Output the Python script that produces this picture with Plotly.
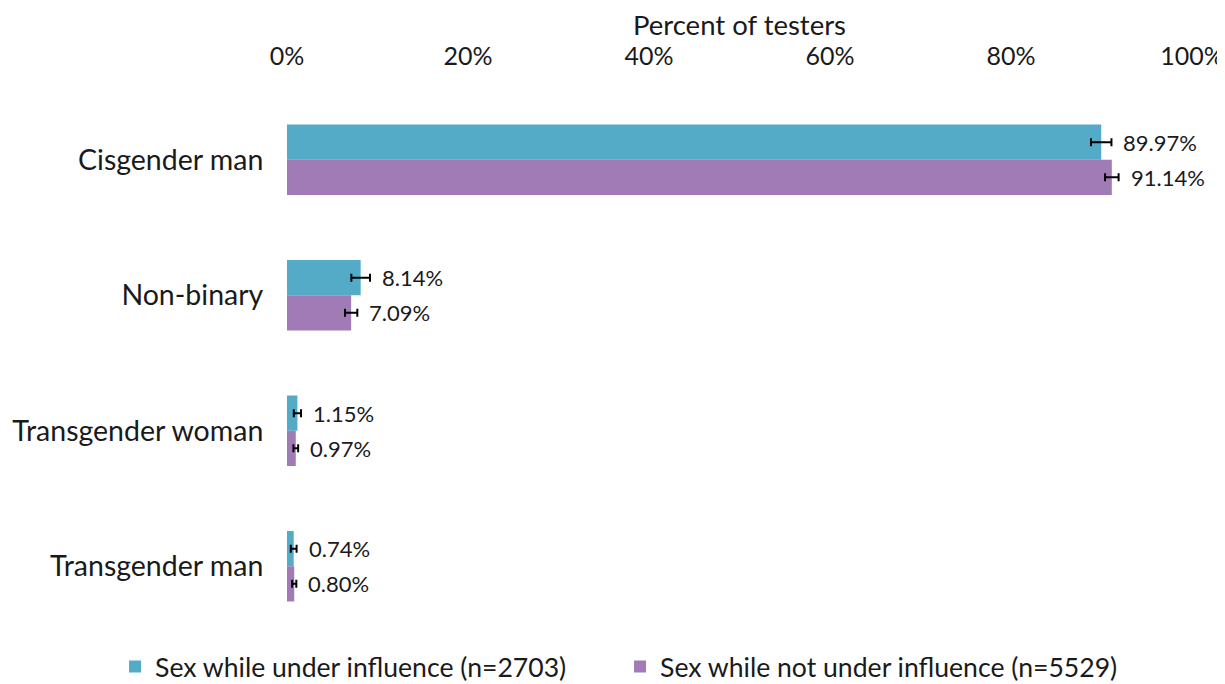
import plotly.graph_objects as go

categories = ["Cisgender man", "Non-binary", "Transgender woman", "Transgender man"]
under_vals = [89.97, 8.14, 1.15, 0.74]
not_under_vals = [91.14, 7.09, 0.97, 0.80]
under_err = [1.13, 1.03, 0.40, 0.32]
not_under_err = [0.75, 0.68, 0.26, 0.23]
series_names = ["Sex while under influence (n=2703)", "Sex while not under influence (n=5529)"]
tick_vals = [0, 20, 40, 60, 80, 100]
tick_text = ["0%", "20%", "40%", "60%", "80%", "100%"]

TEAL = "#54ABC8"
PURPLE = "#A07BB5"
FONT = "Lato, 'Open Sans', sans-serif"
TXT = "#1a1a1a"

fig = go.Figure()
for name, vals, errs, col in [
    (series_names[0], under_vals, under_err, TEAL),
    (series_names[1], not_under_vals, not_under_err, PURPLE),
]:
    fig.add_trace(go.Bar(
        y=categories, x=vals, orientation="h", name=name,
        marker=dict(color=col, line=dict(width=0)),
        error_x=dict(type="data", array=errs, visible=True, color="black",
                     thickness=2, width=4),
    ))

# value labels to the right of the error bars
for vals, errs, shift in [(under_vals, under_err, 17.5), (not_under_vals, not_under_err, -17.5)]:
    for c, v, e in zip(categories, vals, errs):
        fig.add_annotation(
            x=v + e, y=c, text=f"{v:.2f}%", showarrow=False,
            xanchor="left", yanchor="middle", xshift=10, yshift=shift,
            font=dict(family=FONT, size=22, color=TXT),
        )

fig.update_layout(
    width=1217, height=676,
    margin=dict(l=279, r=33, t=84, b=50, autoexpand=False),
    paper_bgcolor="white", plot_bgcolor="white",
    barmode="group", bargap=0.48, bargroupgap=0,
    font=dict(family=FONT, color=TXT),
    showlegend=True,
    legend=dict(orientation="h", x=-0.19, xanchor="left",
                y=-0.016, yanchor="top",
                font=dict(family=FONT, size=26.6, color=TXT),
                itemwidth=30, tracegroupgap=0,
                entrywidth=460, entrywidthmode="pixels"),
    xaxis=dict(side="top", range=[0, 100], tickvals=tick_vals, ticktext=tick_text,
               showgrid=False, zeroline=False, showline=False, automargin=False,
               ticklabeloverflow="allow",
               tickfont=dict(family=FONT, size=25, color=TXT),
               title=dict(text="Percent of testers", font=dict(family=FONT, size=27.5, color=TXT),
                          standoff=1),
               ticks="outside", ticklen=16, tickcolor="rgba(0,0,0,0)"),
    yaxis=dict(autorange="reversed", showgrid=False, zeroline=False, showline=False,
               automargin=False,
               tickfont=dict(family=FONT, size=28.5, color=TXT),
               ticks="outside", ticklen=17, tickcolor="rgba(0,0,0,0)"),
)

fig.write_html("out.html")
